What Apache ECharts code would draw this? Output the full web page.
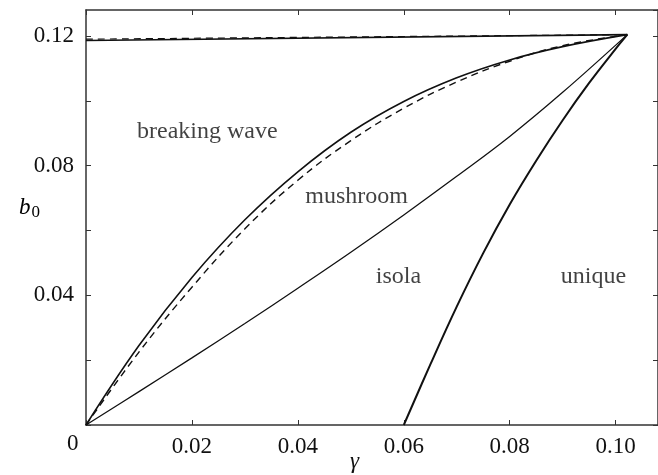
<!DOCTYPE html>
<html>
<head>
<meta charset="utf-8">
<script src="https://cdn.jsdelivr.net/npm/echarts@6/dist/echarts.min.js"></script>
<style>
  html, body { margin: 0; padding: 0; background: #fff; }
  #chart { width: 658px; height: 475px; }
</style>
</head>
<body>
<div id="chart"></div>
<script>
// Regime boundaries in the (gamma, b0) plane
const topSolid = [[0, 0.1186], [0.1022, 0.1204]];
const topDashed = [[0, 0.1190], [0.1022, 0.1204]];

const upperSolid = [
  [0, 0], [0.01, 0.0245], [0.02, 0.0455], [0.03, 0.0633],
  [0.04, 0.0781], [0.05, 0.0903], [0.06, 0.0998], [0.07, 0.1071], [0.08, 0.1126],
  [0.09, 0.1167], [0.1022, 0.1204]
];
const upperDashed = [
  [0, 0], [0.01, 0.0225], [0.02, 0.0425], [0.03, 0.0605],
  [0.04, 0.0755], [0.05, 0.0877], [0.06, 0.0977], [0.07, 0.1058], [0.08, 0.1122],
  [0.09, 0.1170], [0.1022, 0.1204]
];
const isolaBoundary = [
  [0, 0], [0.01, 0.0103], [0.02, 0.0207], [0.03, 0.0313], [0.04, 0.0422],
  [0.05, 0.0533], [0.06, 0.0648], [0.07, 0.0767], [0.08, 0.0890], [0.09, 0.1026],
  [0.1022, 0.1204]
];
const uniqueBoundary = [
  [0.0600, 0], [0.0650, 0.0186], [0.0700, 0.0365], [0.0750, 0.0530], [0.0800, 0.0680],
  [0.0850, 0.0815], [0.0900, 0.0940], [0.0950, 0.1055], [0.1000, 0.1160], [0.1022, 0.1204]
];

// Region names and where they sit
const regionNames = ['breaking wave', 'mushroom', 'isola', 'unique'];
const regionPositions = [[0.0229, 0.0905], [0.0511, 0.0703], [0.0590, 0.0458], [0.0958, 0.0458]];

const xTicks = [0.02, 0.04, 0.06, 0.08, 0.10];
const yTicks = [0.04, 0.08, 0.12];

const FONT = 'Liberation Serif';
const INK = '#111';
const AXIS = '#333';

function onTick(v, list) {
  return list.some(t => Math.abs(t - v) < 1e-9);
}

const chart = echarts.init(document.getElementById('chart'), null, { renderer: 'canvas' });

const axisCommon = {
  axisLine: { show: true, onZero: false, lineStyle: { color: AXIS, width: 1.5 } },
  axisTick: { show: true, inside: true, length: 5, lineStyle: { color: AXIS, width: 1 } },
  splitLine: { show: false },
  minorTick: { show: false }
};

function lineSeries(data, width, dashed) {
  return {
    type: 'line',
    data: data,
    showSymbol: false,
    smooth: 0.4,
    silent: true,
    lineStyle: { color: INK, width: width, type: dashed ? [7, 5] : 'solid' },
    z: dashed ? 3 : 2
  };
}

chart.setOption({
  animation: false,
  backgroundColor: '#fff',
  grid: { left: 86, right: 0, top: 10, bottom: 50, containLabel: false },
  xAxis: [
    Object.assign({
      type: 'value', min: 0, max: 0.108, interval: 0.02, position: 'bottom',
      axisLabel: {
        show: true, margin: 10, color: INK, fontFamily: FONT, fontSize: 23,
        showMaxLabel: false,
        formatter: v => onTick(v, xTicks) ? v.toFixed(2) : ''
      }
    }, axisCommon),
    Object.assign({
      type: 'value', min: 0, max: 0.108, interval: 0.02, position: 'top',
      axisLabel: { show: false }
    }, axisCommon)
  ],
  yAxis: [
    Object.assign({
      type: 'value', min: 0, max: 0.128, interval: 0.02, position: 'left',
      axisLabel: {
        show: true, margin: 12, color: INK, fontFamily: FONT, fontSize: 23,
        showMaxLabel: false,
        formatter: v => onTick(v, yTicks) ? v.toFixed(2) : ''
      }
    }, axisCommon),
    Object.assign({
      type: 'value', min: 0, max: 0.128, interval: 0.02, position: 'right',
      axisLabel: { show: false }
    }, axisCommon)
  ],
  graphic: [
    { type: 'text', left: 67, top: 432, style: { text: '0', font: '23px "Liberation Serif"', fill: INK } },
    { type: 'text', left: 350, top: 450, style: { text: 'γ', font: 'italic 23px "Liberation Serif"', fill: INK } },
    {
      type: 'text', left: 19, top: 196,
      style: {
        text: '{b|b}{s|0}',
        rich: {
          b: { fontFamily: FONT, fontStyle: 'italic', fontSize: 23, color: INK },
          s: { fontFamily: FONT, fontSize: 17, color: INK, padding: [10, 0, 0, 1] }
        }
      }
    }
  ],
  series: [
    lineSeries(topSolid, 1.6, false),
    lineSeries(topDashed, 1.2, true),
    lineSeries(upperSolid, 1.6, false),
    lineSeries(upperDashed, 1.4, true),
    lineSeries(isolaBoundary, 1.3, false),
    lineSeries(uniqueBoundary, 2.0, false),
    {
      type: 'scatter',
      symbolSize: 0,
      silent: true,
      data: regionNames.map((n, i) => ({ name: n, value: regionPositions[i] })),
      label: {
        show: true, position: 'inside', formatter: p => p.name,
        color: INK, fontFamily: FONT, fontSize: 24
      }
    }
  ]
});
</script>
</body>
</html>
